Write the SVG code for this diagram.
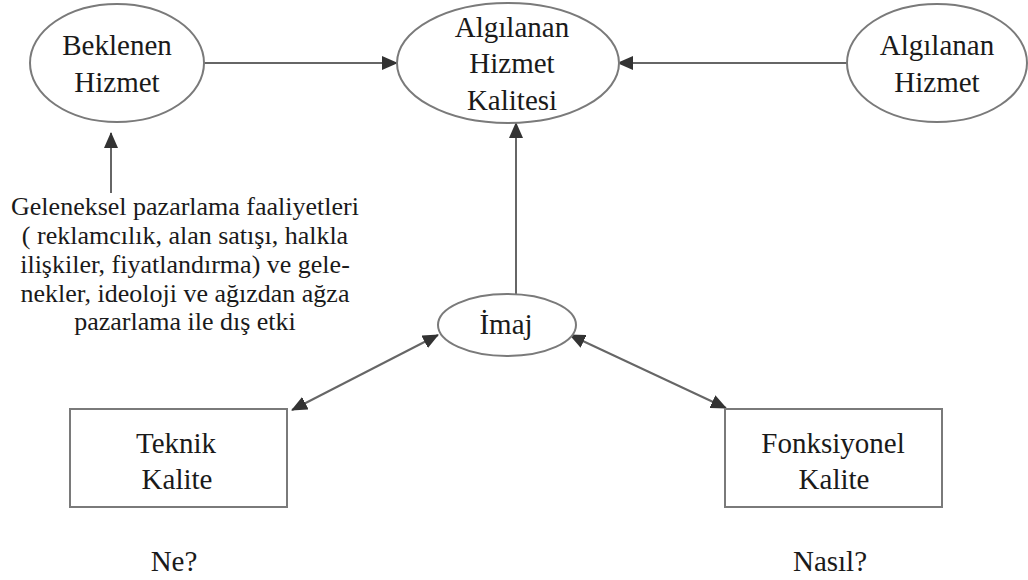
<svg xmlns="http://www.w3.org/2000/svg" width="1028" height="580" viewBox="0 0 1028 580">
<style>
.node{fill:#fff;stroke:#7a7a7a;stroke-width:2}
.t{font-family:'Liberation Serif','Times New Roman','DejaVu Serif',serif;font-size:29px;fill:#1a1a1a;text-anchor:middle}
.s{font-family:'Liberation Serif','Times New Roman','DejaVu Serif',serif;font-size:26px;fill:#1a1a1a;text-anchor:middle}
.c{fill:none;stroke:#666;stroke-width:2}
</style>
<defs>
<marker id="ah" markerUnits="userSpaceOnUse" markerWidth="16" markerHeight="14" refX="15" refY="7" orient="auto-start-reverse">
<path d="M0,0 L16,7 L0,14 Z" fill="#333"/>
</marker>
</defs>
<rect width="1028" height="580" fill="#fff"/>
<g id="connectors">
<line class="c" x1="204" y1="63" x2="397" y2="63" marker-end="url(#ah)"/>
<line class="c" x1="847" y1="63" x2="618" y2="63" marker-end="url(#ah)"/>
<line class="c" x1="516" y1="295" x2="516" y2="123" marker-end="url(#ah)"/>
<line class="c" x1="111" y1="193" x2="111" y2="133" marker-end="url(#ah)"/>
<line class="c" x1="292" y1="410" x2="438" y2="335" marker-start="url(#ah)" marker-end="url(#ah)"/>
<line class="c" x1="570" y1="335" x2="726" y2="408" marker-start="url(#ah)" marker-end="url(#ah)"/>
</g>
<g id="beklenen">
<ellipse class="node" cx="117" cy="63" rx="87" ry="59"/>
<text class="t" x="117" y="55" font-family="Liberation Serif, serif">Beklenen</text>
<text class="t" x="117" y="92" font-family="Liberation Serif, serif">Hizmet</text>
</g>
<g id="algilanan-kalite">
<ellipse class="node" cx="508" cy="63" rx="111" ry="60"/>
<text class="t" x="512" y="37">Algılanan</text>
<text class="t" x="512" y="73">Hizmet</text>
<text class="t" x="512" y="110">Kalitesi</text>
</g>
<g id="algilanan-hizmet">
<ellipse class="node" cx="937" cy="63" rx="90" ry="59"/>
<text class="t" x="937" y="55">Algılanan</text>
<text class="t" x="937" y="92">Hizmet</text>
</g>
<g id="dis-etki">
<text class="s" x="185" y="215">Geleneksel pazarlama faaliyetleri</text>
<text class="s" x="185" y="244">( reklamcılık, alan satışı, halkla</text>
<text class="s" x="185" y="273">ilişkiler, fiyatlandırma) ve gele-</text>
<text class="s" x="185" y="302">nekler, ideoloji ve ağızdan ağza</text>
<text class="s" x="185" y="330">pazarlama ile dış etki</text>
</g>
<g id="imaj">
<ellipse class="node" cx="507" cy="325" rx="69" ry="31"/>
<text class="t" x="506" y="334">İmaj</text>
</g>
<g id="teknik">
<rect class="node" x="70" y="409" width="217" height="98"/>
<text class="t" x="176" y="453">Teknik</text>
<text class="t" x="177" y="489">Kalite</text>
</g>
<g id="fonksiyonel">
<rect class="node" x="725" y="409" width="217" height="98"/>
<text class="t" x="833" y="453">Fonksiyonel</text>
<text class="t" x="834" y="489">Kalite</text>
</g>
<g id="labels">
<text class="t" x="174" y="571">Ne?</text>
<text class="t" x="830" y="571">Nasıl?</text>
</g>
</svg>
